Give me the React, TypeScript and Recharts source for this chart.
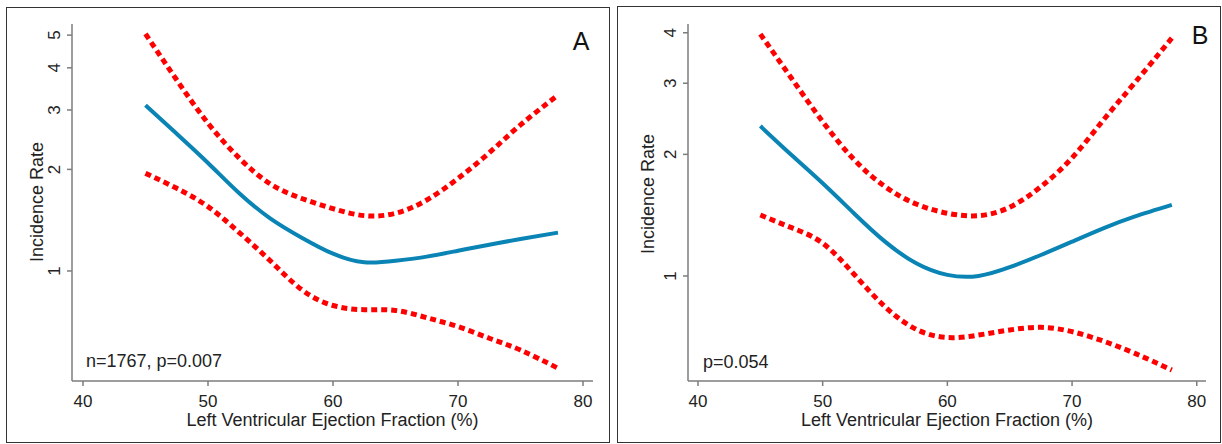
import { LineChart, Line, XAxis, YAxis } from "recharts";

const efValues = [45, 47.5, 50, 52.5, 55, 57.5, 60, 62.5, 65, 67.5, 70, 72.5, 75, 78];

const rateA = [3.1, 2.55, 2.09, 1.7, 1.43, 1.255, 1.125, 1.061, 1.072, 1.103, 1.148, 1.196, 1.244, 1.299];
const upperA = [5.04, 3.68, 2.74, 2.16, 1.81, 1.64, 1.53, 1.459, 1.483, 1.623, 1.88, 2.24, 2.71, 3.32];
const lowerA = [1.947, 1.758, 1.551, 1.3, 1.07, 0.88, 0.79, 0.768, 0.764, 0.727, 0.684, 0.632, 0.583, 0.515];

const rateB = [2.35, 1.993, 1.696, 1.43, 1.216, 1.075, 1.006, 1.0, 1.051, 1.127, 1.216, 1.312, 1.402, 1.499];
const upperB = [3.97, 3.086, 2.41, 1.944, 1.664, 1.507, 1.43, 1.41, 1.48, 1.664, 1.96, 2.43, 3.0, 3.88];
const lowerB = [1.416, 1.317, 1.205, 1.011, 0.839, 0.738, 0.704, 0.714, 0.735, 0.746, 0.728, 0.69, 0.644, 0.585];

const xTicks = [40, 50, 60, 70, 80];
const yTicksA = [1, 2, 3, 4, 5];
const yTicksB = [1, 2, 3, 4];

const xTitle = "Left Ventricular Ejection Fraction (%)";
const yTitle = "Incidence Rate";

const FONT = "'Liberation Sans', Arial, Helvetica, sans-serif";
const AXIS_GRAY = "#7d7d7d";
const BLUE = "#0a84b4";
const RED = "#ff0000";

function buildRows(rate: number[], upper: number[], lower: number[]) {
  return efValues.map((ef, i) => ({ ef, rate: rate[i], upper: upper[i], lower: lower[i] }));
}

const YTick = (props: any) => {
  const { x, y, payload } = props;
  return (
    <text
      transform={`translate(${x - 5},${y}) rotate(-90)`}
      textAnchor="middle"
      fontSize={17}
      fontFamily={FONT}
      fill="#222"
    >
      {payload.value}
    </text>
  );
};

interface PanelProps {
  rows: { ef: number; rate: number; upper: number; lower: number }[];
  xDomain: [number, number];
  yDomain: [number, number];
  yTicks: number[];
  yAxisWidth: number;
  margin: { top: number; right: number; left: number; bottom: number };
  width: number;
  height: number;
}

function Panel({ rows, xDomain, yDomain, yTicks, yAxisWidth, margin, width, height }: PanelProps) {
  return (
    <LineChart width={width} height={height} data={rows} margin={margin}>
      <XAxis
        dataKey="ef"
        type="number"
        domain={xDomain}
        ticks={xTicks}
        allowDataOverflow
        height={60}
        axisLine={{ stroke: AXIS_GRAY, strokeWidth: 1.5 }}
        tickLine={{ stroke: AXIS_GRAY, strokeWidth: 1.5 }}
        tickSize={5}
        tickMargin={9}
        tick={{ fontSize: 17, fontFamily: FONT, fill: "#222" }}
      />
      <YAxis
        scale="log"
        type="number"
        domain={yDomain}
        ticks={yTicks}
        allowDataOverflow
        width={yAxisWidth}
        axisLine={{ stroke: AXIS_GRAY, strokeWidth: 1.5 }}
        tickLine={{ stroke: AXIS_GRAY, strokeWidth: 1.5 }}
        tickSize={5}
        tickMargin={2}
        tick={<YTick />}
      />
      <Line
        type="natural"
        dataKey="upper"
        stroke={RED}
        strokeWidth={5}
        strokeDasharray="6 4"
        dot={false}
        isAnimationActive={false}
      />
      <Line
        type="natural"
        dataKey="lower"
        stroke={RED}
        strokeWidth={5}
        strokeDasharray="6 4"
        dot={false}
        isAnimationActive={false}
      />
      <Line
        type="natural"
        dataKey="rate"
        stroke={BLUE}
        strokeWidth={4}
        dot={false}
        isAnimationActive={false}
      />
    </LineChart>
  );
}

const abs = (left: number, top: number, extra: any = {}) => ({
  position: "absolute" as const,
  left,
  top,
  fontFamily: FONT,
  color: "#222",
  lineHeight: 1,
  whiteSpace: "nowrap" as const,
  ...extra,
});

export default function App() {
  return (
    <div style={{ position: "absolute", left: 0, top: 0, width: 1222, height: 444, background: "#fff", overflow: "hidden" }}>
      {/* panel frames */}
      <div style={{ position: "absolute", left: 6, top: 7, width: 604, height: 436, border: "1.5px solid #333", boxSizing: "border-box" }} />
      <div style={{ position: "absolute", left: 617, top: 6, width: 604, height: 437, border: "1.5px solid #333", boxSizing: "border-box" }} />

      <div style={{ position: "absolute", left: 7, top: 8 }}>
        <Panel
          rows={buildRows(rateA, upperA, lowerA)}
          xDomain={[39.12, 80.8]}
          yDomain={[0.472, 5.394]}
          yTicks={yTicksA}
          yAxisWidth={65}
          margin={{ top: 16, right: 16, left: 0, bottom: 0 }}
          width={602}
          height={433}
        />
      </div>
      <div style={{ position: "absolute", left: 618, top: 7 }}>
        <Panel
          rows={buildRows(rateB, upperB, lowerB)}
          xDomain={[39.2, 80.74]}
          yDomain={[0.5495, 4.205]}
          yTicks={yTicksB}
          yAxisWidth={70}
          margin={{ top: 17, right: 14, left: 0, bottom: 0 }}
          width={602}
          height={434}
        />
      </div>

      {/* axis titles */}
      <div style={abs(332.5, 420, { fontSize: 18, transform: "translate(-50%, -50%)" })}>{xTitle}</div>
      <div style={abs(947, 420, { fontSize: 18, transform: "translate(-50%, -50%)" })}>{xTitle}</div>
      <div style={abs(37, 202, { fontSize: 18, transform: "translate(-50%, -50%) rotate(-90deg)" })}>{yTitle}</div>
      <div style={abs(648, 194, { fontSize: 18, transform: "translate(-50%, -50%) rotate(-90deg)" })}>{yTitle}</div>

      {/* annotations */}
      <div style={abs(86, 361, { fontSize: 18, transform: "translateY(-50%)" })}>n=1767, p=0.007</div>
      <div style={abs(703, 362, { fontSize: 18, transform: "translateY(-50%)" })}>p=0.054</div>

      {/* panel letters */}
      <div style={abs(581, 41, { fontSize: 25, color: "#111", transform: "translate(-50%, -50%)" })}>A</div>
      <div style={abs(1200, 35, { fontSize: 25, color: "#111", transform: "translate(-50%, -50%)" })}>B</div>
    </div>
  );
}
